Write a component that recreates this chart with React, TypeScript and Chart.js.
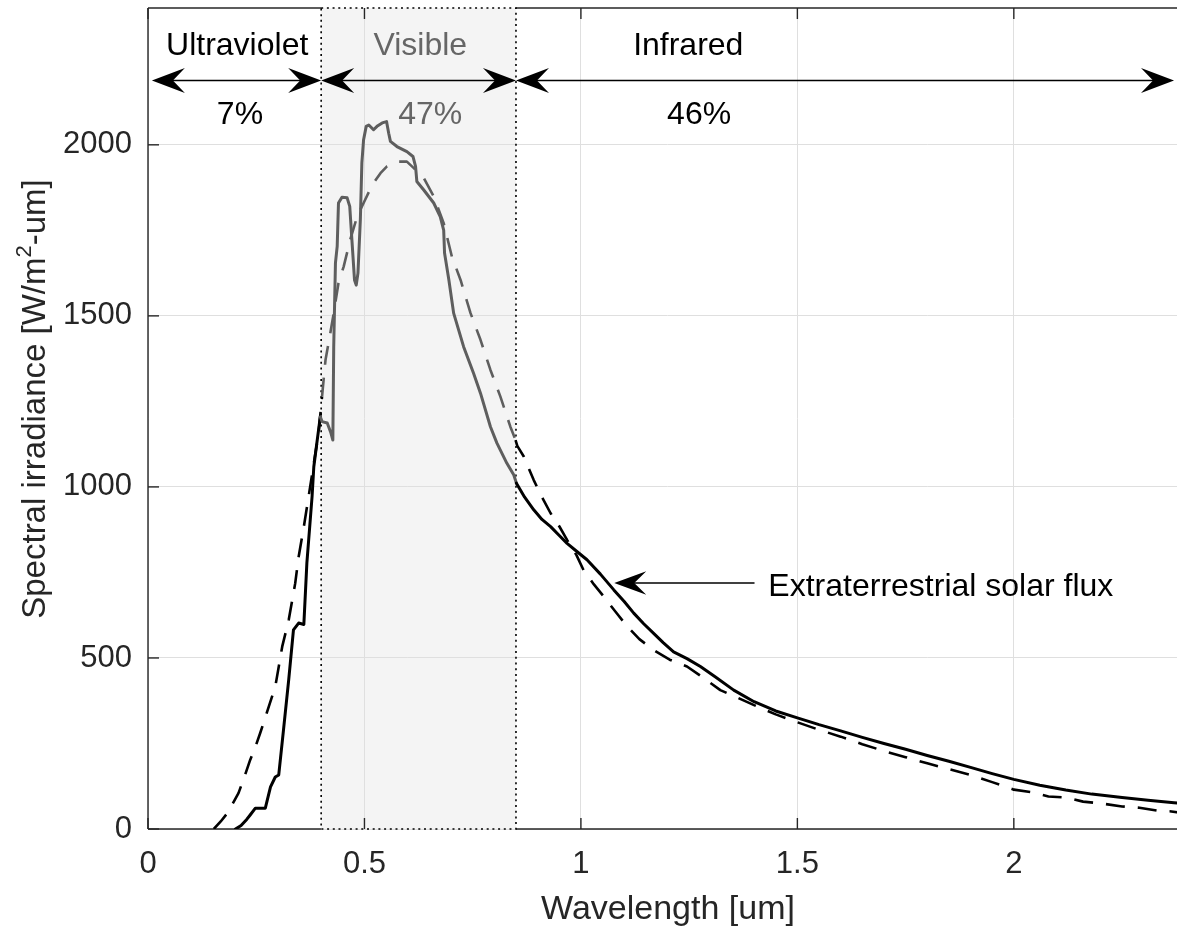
import React, { useEffect, useRef } from 'react';
import { Chart, registerables } from 'chart.js';

Chart.register(...registerables);

// ---------- data ----------
const xTicks = [0, 0.5, 1, 1.5, 2];
const xTickLabels = ['0', '0.5', '1', '1.5', '2'];
const yTicks = [0, 500, 1000, 1500, 2000];
const yTickLabels = ['0', '500', '1000', '1500', '2000'];

// Extraterrestrial solar flux (solid)
const solidWl = [
  0.202, 0.215, 0.228, 0.236, 0.248, 0.271, 0.283, 0.294, 0.302, 0.313, 0.325, 0.336, 0.348, 0.36, 0.367, 0.379, 0.383, 0.39, 0.398,
  0.402, 0.414, 0.422, 0.427, 0.429, 0.433, 0.437, 0.44, 0.448, 0.46, 0.466, 0.471, 0.477, 0.481, 0.485, 0.4905, 0.494, 0.498,
  0.504, 0.51, 0.521, 0.529, 0.541, 0.551, 0.556, 0.56, 0.575, 0.598, 0.612, 0.618, 0.621, 0.637, 0.66, 0.675, 0.683, 0.685,
  0.695, 0.706, 0.729, 0.752, 0.768, 0.791, 0.806, 0.829, 0.845,
  0.851, 0.87, 0.891, 0.91, 0.93, 0.95, 0.968, 0.99, 1.014, 1.045, 1.076, 1.1, 1.122, 1.145, 1.168, 1.19, 1.214, 1.245, 1.276,
  1.31, 1.353, 1.4, 1.45, 1.5, 1.55, 1.6, 1.65, 1.7, 1.75, 1.8, 1.85, 1.9, 1.95, 2.0, 2.06, 2.12, 2.18, 2.25, 2.31, 2.37, 2.4,
];
const solidFlux = [
  0, 10, 28, 41, 61, 61, 123, 152, 158, 290, 436, 582, 602, 598, 778, 972, 1059, 1128, 1205,
  1191, 1187, 1160, 1137, 1410, 1655, 1703, 1830, 1847, 1845, 1820, 1722, 1605, 1590, 1625, 1781, 1947, 2015,
  2054, 2058, 2044, 2054, 2064, 2068, 2034, 2010, 1995, 1980, 1966, 1937, 1893, 1868, 1830, 1790, 1751, 1684,
  1605, 1508, 1410, 1332, 1274, 1176, 1128, 1069, 1035,
  1011, 970, 933, 905, 884, 858, 835, 812, 787, 745, 699, 665, 631, 600, 572, 545, 518, 498, 475,
  445, 406, 372, 345, 325, 305, 287, 268, 250, 233, 215, 198, 180, 162, 145, 128, 114, 102, 92, 84, 77, 74,
];

// Blackbody-like curve (dashed)
const dashedWl = [
  0.152, 0.168, 0.183, 0.196, 0.209, 0.222, 0.236, 0.248, 0.259, 0.27, 0.279, 0.294, 0.31, 0.325, 0.34, 0.348, 0.36, 0.371, 0.383, 0.394,
  0.402, 0.41, 0.421, 0.429, 0.44, 0.452, 0.467, 0.483, 0.498, 0.518, 0.537, 0.552, 0.575, 0.598, 0.614, 0.637, 0.66, 0.683,
  0.702, 0.722, 0.745, 0.768, 0.791, 0.814, 0.837, 0.849,
  0.853, 0.868, 0.891, 0.91, 0.93, 0.95, 0.968, 0.99, 1.006, 1.03, 1.053, 1.08, 1.107, 1.135, 1.168, 1.205, 1.245, 1.285, 1.322,
  1.36, 1.4, 1.45, 1.5, 1.55, 1.6, 1.65, 1.7, 1.75, 1.8, 1.85, 1.9, 1.95, 2.0, 2.04, 2.08, 2.12, 2.16, 2.2, 2.25, 2.29, 2.33, 2.36, 2.4,
];
const dashedFlux = [
  0, 22, 46, 75, 105, 150, 202, 240, 280, 322, 358, 416, 533, 611, 718, 796, 884, 972, 1069, 1157,
  1264, 1371, 1449, 1508, 1596, 1644, 1722, 1790, 1830, 1883, 1917, 1937, 1951, 1951, 1932, 1903, 1849, 1771,
  1673, 1605, 1508, 1430, 1342, 1264, 1176, 1137,
  1120, 1089, 1020, 970, 923, 885, 845, 800, 757, 715, 679, 635, 592, 555, 523, 495, 475, 440, 406,
  385, 362, 335, 312, 290, 270, 248, 228, 210, 192, 175, 158, 137, 115, 108, 95, 92, 80, 75, 66, 62, 54, 52, 45,
];

const bandNames = ['Ultraviolet', 'Visible', 'Infrared'];
const bandShares = ['7%', '47%', '46%'];
const bandEdges = [0.009, 0.4, 0.85, 2.37];
const bandNameX = [0.206, 0.629, 1.248];
const bandShareX = [0.2125, 0.652, 1.273];
const visibleRange = [0.4, 0.85];
const annotationText = 'Extraterrestrial solar flux';
const annotationTip = [1.077, 719];
const annotationTailX = 1.401;
const annotationTextX = 1.433;
const xTitle = 'Wavelength [um]';
const yTitleParts = ['Spectral irradiance [W/m', '2', '-um]'];

// ---------- styles ----------
const FONT = '"Liberation Sans", Arial, Helvetica, sans-serif';
const AXIS = '#262626';
const GRAY = '#5e5e5e';
const BLACK = '#000000';
const ARROW_Y = 2188;

function inVisible(ctx: any) {
  const mid = (ctx.p0.parsed.x + ctx.p1.parsed.x) / 2;
  return mid >= visibleRange[0] && mid < visibleRange[1];
}

function line(ctx: CanvasRenderingContext2D, x0: number, y0: number, x1: number, y1: number) {
  ctx.beginPath();
  ctx.moveTo(x0, y0);
  ctx.lineTo(x1, y1);
  ctx.stroke();
}

function head(ctx: CanvasRenderingContext2D, tx: number, ty: number, dir: number, L = 33, W = 12.5, N = 21) {
  ctx.beginPath();
  ctx.moveTo(tx, ty);
  ctx.lineTo(tx - dir * L, ty - W);
  ctx.lineTo(tx - dir * N, ty);
  ctx.lineTo(tx - dir * L, ty + W);
  ctx.closePath();
  ctx.fill();
}

function tickLabel(values: number[], labels: string[]) {
  return (v: any) => {
    const i = values.findIndex((t) => Math.abs(t - Number(v)) < 1e-9);
    return i >= 0 ? labels[i] : '';
  };
}

const decor = {
  id: 'decor',
  beforeDraw(chart: any) {
    const { ctx, chartArea: a, scales } = chart;
    const x0 = scales.x.getPixelForValue(visibleRange[0]);
    const x1 = scales.x.getPixelForValue(visibleRange[1]);
    ctx.save();
    ctx.fillStyle = '#f4f4f4';
    ctx.fillRect(x0, a.top, x1 - x0, a.bottom - a.top);
    ctx.restore();
  },
  beforeDatasetsDraw(chart: any) {
    const { ctx, chartArea: a, scales } = chart;
    const x0 = scales.x.getPixelForValue(visibleRange[0]);
    const x1 = scales.x.getPixelForValue(visibleRange[1]);
    ctx.save();
    ctx.strokeStyle = AXIS;
    ctx.lineWidth = 1.4;
    line(ctx, a.left, a.top, a.left, a.bottom);
    line(ctx, a.left, a.top, x0, a.top);
    line(ctx, x1, a.top, a.right, a.top);
    line(ctx, a.left, a.bottom, x0, a.bottom);
    line(ctx, x1, a.bottom, a.right, a.bottom);
    for (const v of xTicks) {
      const p = scales.x.getPixelForValue(v);
      line(ctx, p, a.bottom, p, a.bottom - 11);
      line(ctx, p, a.top, p, a.top + 11);
    }
    for (const v of yTicks) {
      const p = scales.y.getPixelForValue(v);
      line(ctx, a.left, p, a.left + 11, p);
    }
    ctx.strokeStyle = '#000';
    ctx.lineWidth = 1.6;
    ctx.setLineDash([2, 3.7]);
    ctx.strokeRect(x0, a.top, x1 - x0, a.bottom - a.top);
    ctx.restore();
  },
  afterDatasetsDraw(chart: any) {
    const { ctx, scales } = chart;
    const X = (v: number) => scales.x.getPixelForValue(v);
    const Y = (v: number) => scales.y.getPixelForValue(v);
    ctx.save();
    // band arrows
    const ay = Y(ARROW_Y);
    ctx.strokeStyle = '#000';
    ctx.fillStyle = '#000';
    ctx.lineWidth = 1.5;
    for (let i = 0; i < 3; i++) {
      const l = X(bandEdges[i]);
      const r = X(bandEdges[i + 1]);
      line(ctx, l + 10, ay, r - 10, ay);
      head(ctx, l, ay, -1);
      head(ctx, r, ay, 1);
    }
    // band texts
    ctx.font = `32px ${FONT}`;
    ctx.textAlign = 'center';
    ctx.textBaseline = 'alphabetic';
    for (let i = 0; i < 3; i++) {
      ctx.fillStyle = i === 1 ? '#666666' : '#000000';
      ctx.fillText(bandNames[i], X(bandNameX[i]), ay - 26);
      ctx.fillText(bandShares[i], X(bandShareX[i]), ay + 43);
    }
    // annotation
    const tipX = X(annotationTip[0]);
    const tipY = Y(annotationTip[1]);
    ctx.lineWidth = 1.4;
    line(ctx, tipX + 10, tipY, X(annotationTailX), tipY);
    head(ctx, tipX, tipY, -1, 32, 11.7, 20);
    ctx.fillStyle = '#000';
    ctx.textAlign = 'left';
    ctx.fillText(annotationText, X(annotationTextX), tipY + 13);
    // axis titles
    ctx.fillStyle = AXIS;
    ctx.font = `34px ${FONT}`;
    ctx.textAlign = 'center';
    ctx.fillText(xTitle, 668, 919);
    ctx.translate(45, 399);
    ctx.rotate(-Math.PI / 2);
    const mainF = `33px ${FONT}`;
    const supF = `22px ${FONT}`;
    ctx.font = mainF;
    const w1 = ctx.measureText(yTitleParts[0]).width;
    const w3 = ctx.measureText(yTitleParts[2]).width;
    ctx.font = supF;
    const w2 = ctx.measureText(yTitleParts[1]).width;
    let cx = -(w1 + w2 + w3) / 2;
    ctx.textAlign = 'left';
    ctx.font = mainF;
    ctx.fillText(yTitleParts[0], cx, 0);
    cx += w1;
    ctx.font = supF;
    ctx.fillText(yTitleParts[1], cx, -14);
    cx += w2;
    ctx.font = mainF;
    ctx.fillText(yTitleParts[2], cx, 0);
    ctx.restore();
  },
};

export default function App() {
  const ref = useRef<HTMLCanvasElement>(null);
  useEffect(() => {
    const canvas = ref.current;
    if (!canvas) return;
    const chart = new Chart(canvas, {
      type: 'line',
      data: {
        datasets: [
          {
            data: solidWl.map((x, i) => ({ x, y: solidFlux[i] })),
            borderColor: BLACK,
            borderWidth: 3,
            pointRadius: 0,
            tension: 0,
            borderJoinStyle: 'round',
            borderCapStyle: 'round',
            segment: { borderColor: (c: any) => (inVisible(c) ? GRAY : BLACK) },
          } as any,
          {
            data: dashedWl.map((x, i) => ({ x, y: dashedFlux[i] })),
            borderColor: BLACK,
            borderWidth: 2.6,
            borderDash: [19, 13],
            pointRadius: 0,
            tension: 0,
            borderJoinStyle: 'round',
            segment: { borderColor: (c: any) => (inVisible(c) ? GRAY : BLACK) },
          } as any,
        ],
      },
      options: {
        animation: false,
        responsive: false,
        devicePixelRatio: 1,
        events: [],
        layout: { padding: { left: 0, top: 8, right: 0, bottom: 0 } },
        plugins: { legend: { display: false }, tooltip: { enabled: false }, title: { display: false } },
        scales: {
          x: {
            type: 'linear',
            min: 0,
            max: 2.4,
            afterBuildTicks: (s: any) => {
              s.ticks = xTicks.map((value) => ({ value }));
            },
            afterFit: (s: any) => {
              s.height = 100;
              s.paddingLeft = 0;
              s.paddingRight = 0;
              s.paddingTop = 0;
              s.paddingBottom = 0;
            },
            ticks: {
              callback: tickLabel(xTicks, xTickLabels),
              font: { family: FONT, size: 31 },
              color: AXIS,
              padding: 17,
              maxRotation: 0,
              autoSkip: false,
            },
            grid: { color: '#dfdfdf', lineWidth: 1, drawTicks: false },
            border: { display: false },
          },
          y: {
            type: 'linear',
            min: 0,
            max: 2400,
            afterBuildTicks: (s: any) => {
              s.ticks = yTicks.map((value) => ({ value }));
            },
            afterFit: (s: any) => {
              s.width = 148;
              s.paddingLeft = 0;
              s.paddingRight = 0;
              s.paddingTop = 0;
              s.paddingBottom = 0;
            },
            ticks: {
              callback: tickLabel(yTicks, yTickLabels),
              font: { family: FONT, size: 31 },
              color: AXIS,
              padding: 16,
              autoSkip: false,
            },
            grid: { color: '#dfdfdf', lineWidth: 1, drawTicks: false },
            border: { display: false },
          },
        },
      } as any,
      plugins: [decor],
    });
    return () => chart.destroy();
  }, []);
  return (
    <div style={{ position: 'fixed', left: 0, top: 0, width: 1177, height: 929, overflow: 'hidden', background: '#fff' }}>
      <canvas ref={ref} width={1187} height={929} style={{ display: 'block', width: 1187, height: 929 }} />
    </div>
  );
}
